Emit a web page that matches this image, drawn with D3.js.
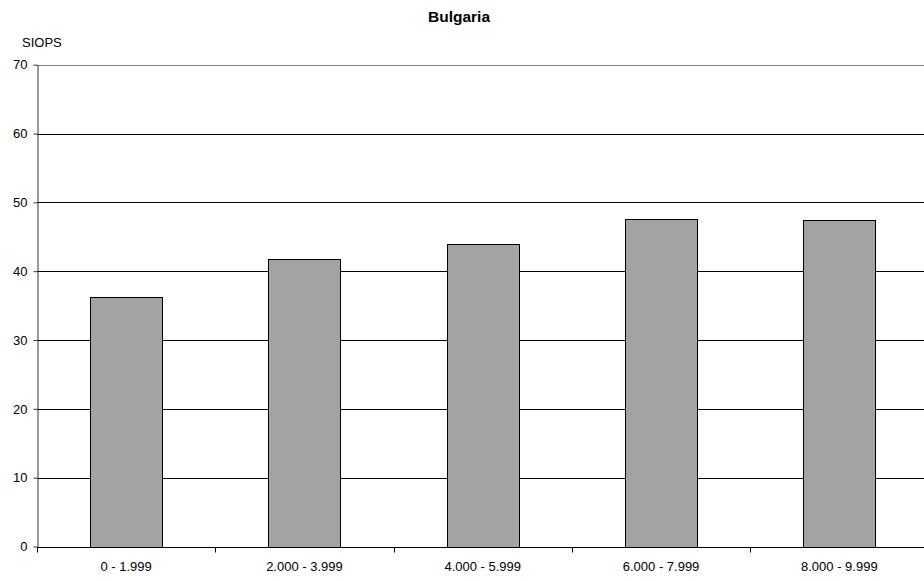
<!DOCTYPE html>
<html><head><meta charset="utf-8">
<script src="https://cdn.jsdelivr.net/npm/d3@7"></script>
<style>body{margin:0;background:#fff}svg{display:block;font-family:"Liberation Sans",Arial,sans-serif}</style>
</head><body><svg id="c" width="924" height="581"></svg>
<script>
const categories = ["0 - 1.999","2.000 - 3.999","4.000 - 5.999","6.000 - 7.999","8.000 - 9.999"];
const values = [36.2, 41.7, 44.0, 47.6, 47.5];
const yTicks = [0,10,20,30,40,50,60,70];
const title = "Bulgaria";
const yLabel = "SIOPS";

const svg = d3.select("#c");
const m = {left:37, top:64.7, bottom:546.5};
const plotW = 891.5;
const x = d3.scaleBand().domain(categories).range([m.left, m.left+plotW]).paddingInner(0.596).paddingOuter(0.298);
const y = d3.scaleLinear().domain([0,70]).range([m.bottom, m.top]);

// gridlines
svg.append("g").selectAll("line").data(yTicks.filter(d=>d>0)).join("line")
  .attr("x1", m.left).attr("x2", m.left+plotW)
  .attr("y1", d=>Math.round(y(d))+0.5).attr("y2", d=>Math.round(y(d))+0.5)
  .attr("stroke", d=>d===70?"#808080":"#000").attr("stroke-width",1);

// bars
svg.append("g").selectAll("rect").data(values).join("rect")
  .attr("x", (d,i)=>Math.round(x(categories[i]))+0.5)
  .attr("width", Math.round(x.bandwidth()))
  .attr("y", d=>Math.round(y(d))+0.5)
  .attr("height", d=>Math.round(y(0))-Math.round(y(d)))
  .attr("fill","#a3a3a3").attr("stroke","#000").attr("stroke-width",1);

// y axis
const ya = d3.axisLeft(y).tickValues(yTicks).tickSize(4).tickSizeOuter(0);
const gy = svg.append("g").attr("transform",`translate(${m.left+0.5},0)`).call(ya);
gy.select(".domain").attr("stroke","#333");
gy.selectAll(".tick line").attr("stroke","#333");
gy.selectAll("text").attr("font-size","13px").attr("fill","#000").attr("font-family","Liberation Sans, Arial, sans-serif").attr("x",-10);

// x axis
const gx = svg.append("g").attr("transform",`translate(0,${Math.round(m.bottom)+0.5})`);
gx.append("line").attr("x1",m.left).attr("x2",m.left+plotW).attr("stroke","#000");
const bounds = d3.range(0,categories.length+1).map(i=>m.left+i*plotW/categories.length);
gx.selectAll("line.t").data(bounds).join("line").attr("class","t")
  .attr("x1",d=>Math.round(d)+0.5).attr("x2",d=>Math.round(d)+0.5).attr("y1",0).attr("y2",5).attr("stroke","#000");
gx.selectAll("text").data(categories).join("text")
  .attr("x", d=>x(d)+x.bandwidth()/2).attr("y",23.5)
  .attr("text-anchor","middle").attr("font-size","13px").text(d=>d);

// title
svg.append("text").attr("x",459).attr("y",22).attr("text-anchor","middle")
  .attr("font-size","15.5px").attr("font-weight","bold").text(title);
svg.append("text").attr("x",22).attr("y",47).attr("font-size","13px").text(yLabel);
</script></body></html>
